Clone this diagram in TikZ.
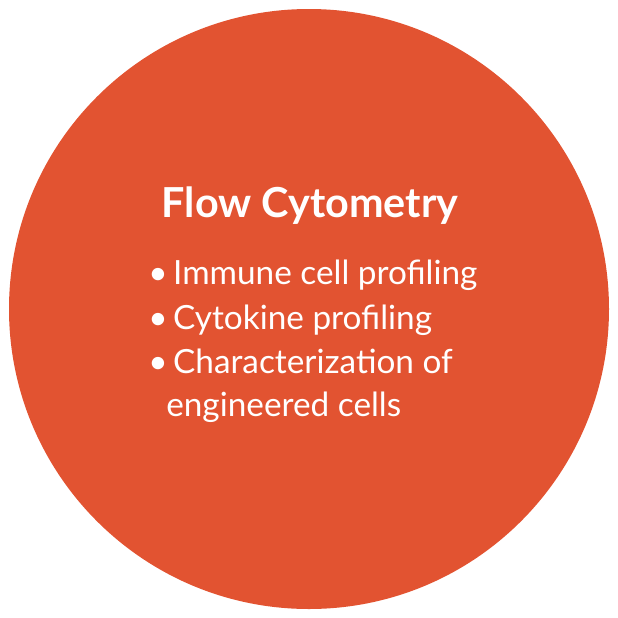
\documentclass[tikz,border=0pt]{standalone}
\usepackage{fontspec}
\setmainfont{Lato}
\definecolor{disc}{HTML}{E25331}
\begin{document}
\begin{tikzpicture}[x=0.75pt,y=-0.75pt,
  title/.style={text=white, font=\fontsize{31}{36}\selectfont\bfseries},
  item/.style={text=white, font=\fontsize{25}{30}\selectfont, anchor=base west, inner sep=0pt}
]
  \useasboundingbox (0,0) rectangle (618,618);
  \fill[disc] (309,309) circle (300);

  \node[title] (head) at (310,206) {Flow Cytometry};

  \node[item] (b1) at (148,284) {\textbullet\,Immune cell profiling};
  \node[item] (b2) at (148,329) {\textbullet\,Cytokine profiling};
  \node[item] (b3) at (148,373) {\textbullet\,Characterization of};
  \node[item] (b4) at (166,416) {engineered cells};
\end{tikzpicture}
\end{document}
